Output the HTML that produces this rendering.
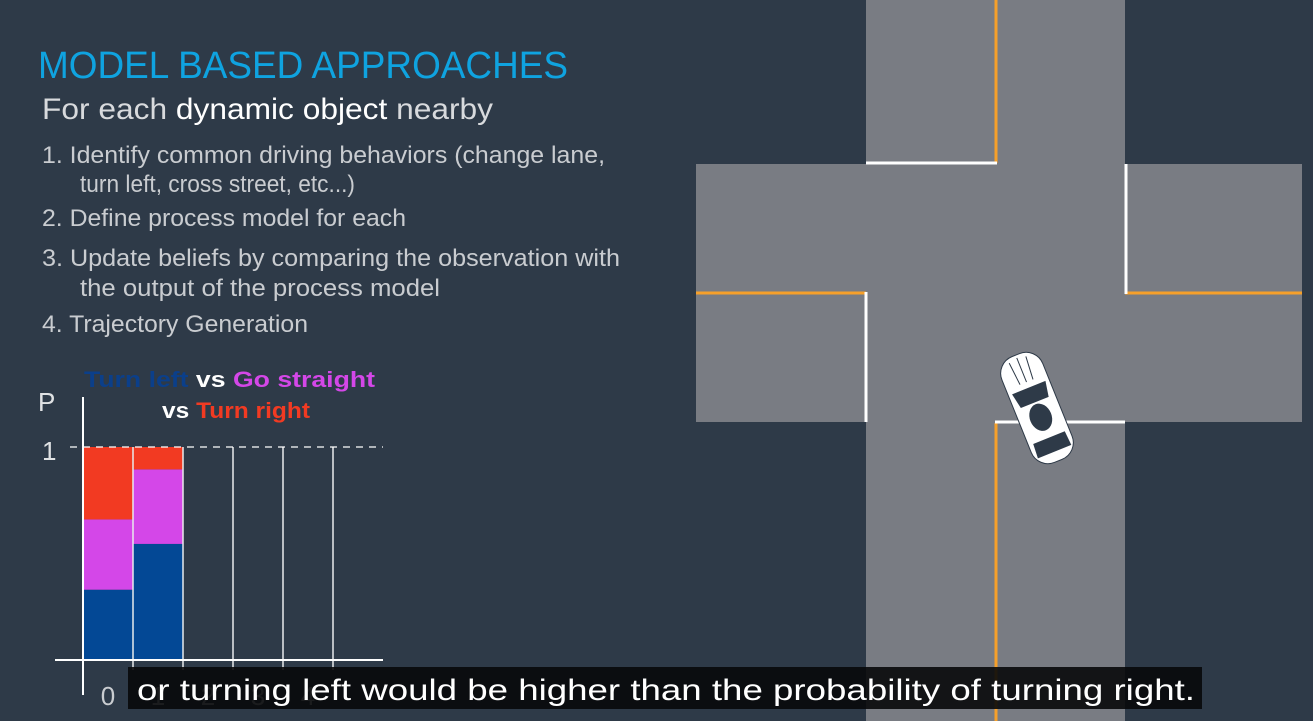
<!DOCTYPE html>
<html><head><meta charset="utf-8"><style>
html,body{margin:0;padding:0;background:#2e3a48;}
svg{display:block;}
text{font-family:"Liberation Sans",sans-serif;}
</style></head><body>
<svg width="1313" height="721" viewBox="0 0 1313 721">
<rect x="0" y="0" width="1313" height="721" fill="#2e3a48"/>
<g>
<rect x="866" y="0" width="259" height="721" fill="#797c83"/>
<rect x="696" y="164" width="606" height="258" fill="#797c83"/>
<line x1="996" y1="0" x2="996" y2="163" stroke="#f6a02a" stroke-width="3"/>
<line x1="996" y1="423" x2="996" y2="721" stroke="#f6a02a" stroke-width="3"/>
<line x1="696" y1="293" x2="866" y2="293" stroke="#f6a02a" stroke-width="3"/>
<line x1="1125" y1="293" x2="1302" y2="293" stroke="#f6a02a" stroke-width="3"/>
<line x1="866" y1="163" x2="997" y2="163" stroke="#fff" stroke-width="3"/>
<line x1="1126" y1="164" x2="1126" y2="294" stroke="#fff" stroke-width="3"/>
<line x1="866" y1="292" x2="866" y2="422" stroke="#fff" stroke-width="3"/>
<line x1="995" y1="422" x2="1125" y2="422" stroke="#fff" stroke-width="3"/>
<g transform="translate(1037,408) rotate(-22)">
<rect x="-22" y="-57" width="44" height="114" rx="18" fill="#fff" stroke="#2e3a48" stroke-width="1"/>
<path d="M-18,-22 L18,-22 L15,-6 L-15,-6 Z" fill="#2e3a48"/>
<ellipse cx="0" cy="10" rx="11" ry="14" fill="#2e3a48"/>
<path d="M-17,32 L17,32 L18,47 L-18,47 Z" fill="#2e3a48"/>
<path d="M-9,-52 L-7,-28 M0,-54 L0,-28 M9,-52 L7,-28" stroke="#2e3a48" stroke-width="1"/>
</g>
</g>
<g>
<text x="38" y="78" font-size="38" fill="#0fa3e0" textLength="530" lengthAdjust="spacingAndGlyphs">MODEL BASED APPROACHES</text>
<text x="42" y="119" font-size="30" fill="#d8dadd" textLength="451" lengthAdjust="spacingAndGlyphs">For each <tspan fill="#fff">dynamic object</tspan> nearby</text>
<g font-size="24" fill="#c9ccd0">
<text x="42" y="163" textLength="563" lengthAdjust="spacingAndGlyphs">1. Identify common driving behaviors (change lane,</text>
<text x="80" y="192" textLength="275" lengthAdjust="spacingAndGlyphs">turn left, cross street, etc...)</text>
<text x="42" y="226" textLength="364" lengthAdjust="spacingAndGlyphs">2. Define process model for each</text>
<text x="42" y="266" textLength="578" lengthAdjust="spacingAndGlyphs">3. Update beliefs by comparing the observation with</text>
<text x="80" y="296" textLength="360" lengthAdjust="spacingAndGlyphs">the output of the process model</text>
<text x="42" y="332" textLength="266" lengthAdjust="spacingAndGlyphs">4. Trajectory Generation</text>
</g>
</g>
<g id="chart">
<text x="84" y="387" font-size="22" font-weight="bold" textLength="291" lengthAdjust="spacingAndGlyphs"><tspan fill="#0b3f8a">Turn left</tspan><tspan fill="#fff"> vs </tspan><tspan fill="#d447e8">Go straight</tspan></text>
<text x="162" y="418" font-size="22" font-weight="bold" textLength="148" lengthAdjust="spacingAndGlyphs"><tspan fill="#fff">vs </tspan><tspan fill="#f23a22">Turn right</tspan></text>
<text x="38" y="411" font-size="26" fill="#e0e2e4">P</text>
<g id="bars"></g>
<g id="grid"></g>
<line x1="83" y1="397" x2="83" y2="695" stroke="#fff" stroke-width="2"/>
<line x1="55" y1="660" x2="383" y2="660" stroke="#fff" stroke-width="2"/>
<line x1="70" y1="447" x2="383" y2="447" stroke="#fff" stroke-width="1.2" stroke-dasharray="7,6"/>
<text x="42" y="460" font-size="26" fill="#e0e2e4">1</text>
<g id="xlabels"></g>
</g>
<g>
<rect x="128" y="667" width="1074" height="42" fill="#08090a" opacity="0.9"/>
<text x="137" y="700" font-size="30" fill="#fff" textLength="1058" lengthAdjust="spacingAndGlyphs">or turning left would be higher than the probability of turning right.</text>
</g>
</svg>
<script>
const categories = ["0","1","2","3","4","5"];
const turnLeft = [0.33, 0.545];
const goStraight = [0.33, 0.35];
const turnRight = [0.34, 0.105];
const NS="http://www.w3.org/2000/svg";
const x0=83, bw=50, yBase=660, yTop=447;
function xs(i){return x0+i*bw;}
function ys(v){return yBase-(yBase-yTop)*v;}
const bars=document.getElementById('bars');
const series=[[turnLeft,'#034895','turn-left'],[goStraight,'#d447e8','go-straight'],[turnRight,'#f23a22','turn-right']];
for(let i=0;i<turnLeft.length;i++){
  let acc=0;
  for(const [vals,col,nm] of series){
    const r=document.createElementNS(NS,'rect');
    r.setAttribute('x',xs(i));r.setAttribute('width',bw);
    r.setAttribute('y',ys(acc+vals[i]));r.setAttribute('height',ys(acc)-ys(acc+vals[i]));
    r.setAttribute('fill',col);
    
    
    bars.appendChild(r);
    acc+=vals[i];
  }
}
const grid=document.getElementById('grid');
for(let i=1;i<categories.length;i++){
  const l=document.createElementNS(NS,'line');
  l.setAttribute('x1',xs(i));l.setAttribute('x2',xs(i));
  l.setAttribute('y1',yTop);l.setAttribute('y2',yBase+10);
  l.setAttribute('stroke','#e8eaec');l.setAttribute('stroke-width','1.5');
  
  
  grid.appendChild(l);
}
const xl=document.getElementById('xlabels');
for(let i=0;i<5;i++){
  const t=document.createElementNS(NS,'text');
  t.setAttribute('x',xs(i)+25);t.setAttribute('y',705);
  t.setAttribute('font-size','26');t.setAttribute('fill','#c9ccd0');
  t.setAttribute('text-anchor','middle');
  t.textContent=categories[i];
  
  
  xl.appendChild(t);
}
</script>
</body></html>
